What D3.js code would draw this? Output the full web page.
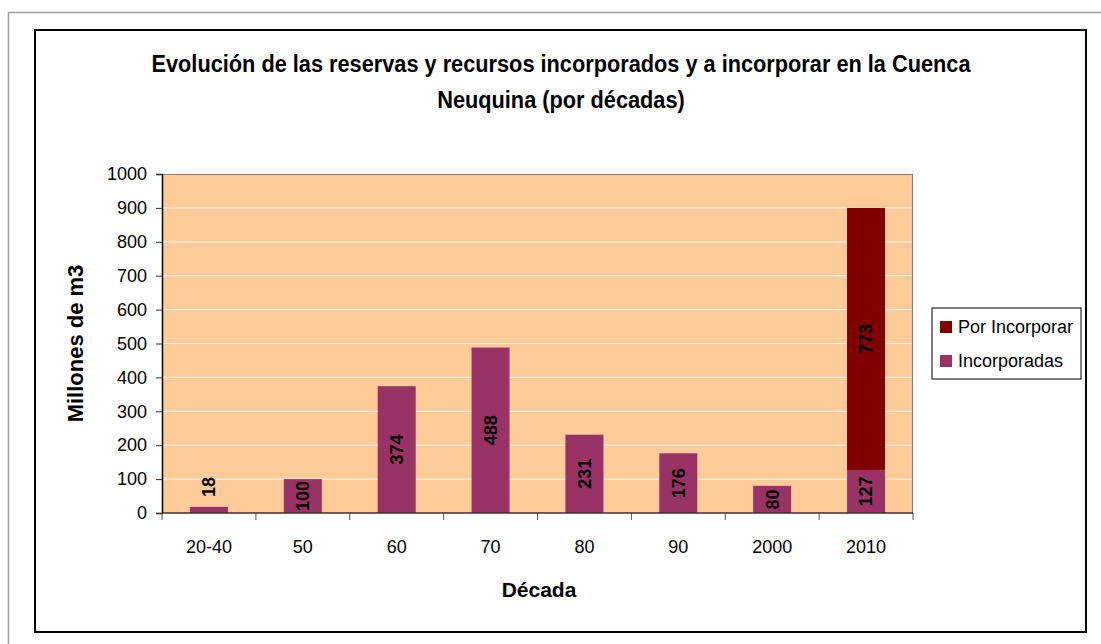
<!DOCTYPE html>
<html>
<head>
<meta charset="utf-8">
<script src="https://cdn.jsdelivr.net/npm/d3@7"></script>
<style>
  body { margin: 0; background: #fff; }
  text { font-family: "Liberation Sans", Arial, sans-serif; fill: #000; }
</style>
</head>
<body>
<div id="canvas"></div>
<script>
"use strict"

// data
let decadas = ["20-40", "50", "60", "70", "80", "90", "2000", "2010"]
let incorporadas = [18, 100, 374, 488, 231, 176, 80, 127]
let porIncorporar = [0, 0, 0, 0, 0, 0, 0, 773]
let yTicks = [0, 100, 200, 300, 400, 500, 600, 700, 800, 900, 1000]
let seriesNames = ["Por Incorporar", "Incorporadas"]
let seriesColors = ["#800000", "#993366"]

let svg = d3.select("#canvas")
    .append("svg")
    .attr("width", 1101)
    .attr("height", 644)

/* outer gray frame and black chart frame */
svg.append("rect")
    .attr("x", 8.5).attr("y", 12.5)
    .attr("width", 1200).attr("height", 700)
    .attr("fill", "none").attr("stroke", "#a0a0a0").attr("stroke-width", 1.5)

svg.append("rect")
    .attr("x", 35).attr("y", 30)
    .attr("width", 1051).attr("height", 602)
    .attr("fill", "#fff").attr("stroke", "#000").attr("stroke-width", 2)

/* title - the original font is a bit condensed, so squeeze it a little */
let title = svg.append("text")
    .attr("text-anchor", "middle")
    .style("font-size", "23px")
    .style("font-weight", "bold")
title.append("tspan").attr("x", 561).attr("y", 72)
    .text("Evolución de las reservas y recursos incorporados y a incorporar en la Cuenca")
title.append("tspan").attr("x", 561).attr("y", 108)
    .text("Neuquina (por décadas)")
title.selectAll("tspan").each(function () {
    let w = this.getComputedTextLength()
    d3.select(this).attr("textLength", w * 0.945).attr("lengthAdjust", "spacingAndGlyphs")
})

/* plot area */
let plotL = 162, plotR = 913, plotT = 174, plotB = 513

let x = d3.scaleBand()
    .domain(decadas)
    .range([plotL, plotR])
    .paddingInner(0.595)
    .paddingOuter(0.2975)

let y = d3.scaleLinear()
    .domain([0, 1000])
    .range([plotB, plotT])

svg.append("rect")
    .attr("x", plotL).attr("y", plotT)
    .attr("width", plotR - plotL).attr("height", plotB - plotT)
    .attr("fill", "#ffcc99")

// gridlines
svg.append("g")
    .selectAll("line")
    .data(yTicks.filter(d => d > 0 && d < 1000))
    .join("line")
    .attr("x1", plotL).attr("x2", plotR)
    .attr("y1", d => y(d)).attr("y2", d => y(d))
    .attr("stroke", "#ffeedd").attr("stroke-width", 1.2)

// plot border top/right
svg.append("path")
    .attr("d", `M${plotL},${plotT + 0.5}H${plotR - 0.5}V${plotB}`)
    .attr("fill", "none").attr("stroke", "#808080").attr("stroke-width", 1.2)

/* stacked bars */
let rows = decadas.map((d, i) => ({ decada: d, incorporadas: incorporadas[i], porIncorporar: porIncorporar[i] }))
let stack = d3.stack().keys(["incorporadas", "porIncorporar"])(rows)
let colorOf = { incorporadas: seriesColors[1], porIncorporar: seriesColors[0] }

let layers = svg.append("g")
    .selectAll("g")
    .data(stack)
    .join("g")
    .attr("fill", s => colorOf[s.key])

layers.selectAll("rect")
    .data(s => s.filter(p => p[1] > p[0]))
    .join("rect")
    .attr("x", p => x(p.data.decada))
    .attr("width", x.bandwidth())
    .attr("y", p => y(p[1]))
    .attr("height", p => y(p[0]) - y(p[1]))

// value labels, rotated
layers.selectAll("text")
    .data(s => s.filter(p => p[1] > p[0]))
    .join("text")
    .attr("transform", p => {
        let cx = x(p.data.decada) + x.bandwidth() / 2
        let h = y(p[0]) - y(p[1])
        let cy = h > 24 ? (y(p[0]) + y(p[1])) / 2 : y(p[1]) - 20
        return `translate(${cx},${cy}) rotate(-90)`
    })
    .attr("text-anchor", "middle")
    .attr("dy", "0.35em")
    .style("font-size", "18px")
    .style("font-weight", "bold")
    .text(p => p[1] - p[0])

/* axes */
let yAxis = svg.append("g")
    .attr("transform", `translate(${plotL},0)`)
    .call(d3.axisLeft(y).tickValues(yTicks).tickFormat(d3.format("d")).tickSize(6).tickPadding(9))
yAxis.select(".domain").attr("stroke", "#000").attr("stroke-width", 1.5)
yAxis.selectAll(".tick line").attr("stroke", "#333")
yAxis.selectAll("text").style("font-size", "18px").attr("font-family", null)

let xAxis = svg.append("g")
    .attr("transform", `translate(0,${plotB})`)
svg.append("line")
    .attr("x1", plotL).attr("x2", plotR)
    .attr("y1", plotB).attr("y2", plotB)
    .attr("stroke", "#333").attr("stroke-width", 1.5)
xAxis.selectAll("line")
    .data(d3.range(decadas.length + 1))
    .join("line")
    .attr("x1", i => plotL + i * x.step()).attr("x2", i => plotL + i * x.step())
    .attr("y1", 0).attr("y2", 7)
    .attr("stroke", "#555")
xAxis.selectAll("text")
    .data(decadas)
    .join("text")
    .attr("x", d => x(d) + x.bandwidth() / 2)
    .attr("y", 40)
    .attr("text-anchor", "middle")
    .style("font-size", "18px")
    .text(d => d)

/* axis titles */
svg.append("text")
    .attr("x", 539).attr("y", 597)
    .attr("text-anchor", "middle")
    .style("font-size", "21px")
    .style("font-weight", "bold")
    .text("Década")

svg.append("text")
    .attr("transform", `translate(83,${(plotT + plotB) / 2}) rotate(-90)`)
    .attr("text-anchor", "middle")
    .style("font-size", "22px")
    .style("font-weight", "bold")
    .text("Millones de m3")

/* legend */
let legend = svg.append("g").attr("transform", "translate(932,308)")
legend.append("rect")
    .attr("width", 149).attr("height", 71)
    .attr("fill", "#fff").attr("stroke", "#000").attr("stroke-width", 1)
let items = legend.selectAll("g.item")
    .data(seriesNames)
    .join("g")
    .attr("class", "item")
    .attr("transform", (d, i) => `translate(8,${13 + i * 34})`)
items.append("rect")
    .attr("width", 12).attr("height", 12)
    .attr("fill", (d, i) => seriesColors[i])
items.append("text")
    .attr("x", 18).attr("y", 6)
    .attr("dy", "0.35em")
    .style("font-size", "18px")
    .text(d => d)
</script>
</body>
</html>
